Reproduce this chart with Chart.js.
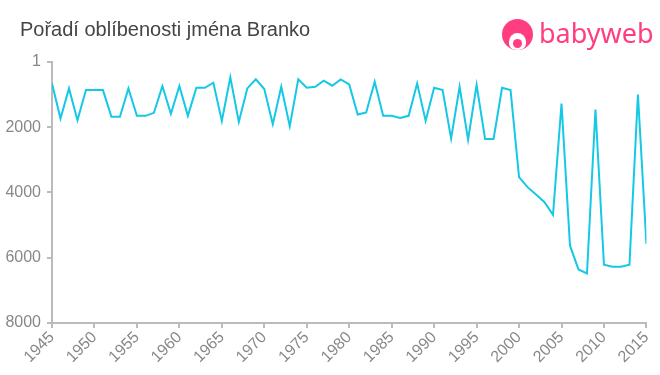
<!DOCTYPE html>
<html>
<head>
<meta charset="utf-8">
<script src="https://cdn.jsdelivr.net/npm/chart.js@4"></script>
<style>
  html, body { margin: 0; padding: 0; background: #fff; }
  #wrap { position: relative; width: 660px; height: 375px; }
  #title { position: absolute; left: 20px; top: 18px; font: 20px "Liberation Sans", Arial, sans-serif; color: #444; }
  #logo { position: absolute; left: 502px; top: 17px; height: 34px; display: flex; align-items: center; }
  #logo .icon { position: relative; width: 31px; height: 31px; border-radius: 50%; background: #ff3d80; overflow: hidden; }
  #logo .face { position: absolute; left: 7px; top: 14px; width: 17px; height: 17px; border-radius: 50% 50% 40% 40%; background: #fff; }
  #logo .mouth { position: absolute; left: 11px; top: 20px; width: 9px; height: 9px; border-radius: 50%; background: #ff3d80; }
  #logo .txt { margin-left: 6px; margin-top: -4px; font: 400 27px "Noto Sans", sans-serif; color: #ff3d80; letter-spacing: 0px; }
  canvas { position: absolute; left: 0; top: 0; }
</style>
</head>
<body>
<div id="wrap">
  <canvas id="chart" width="660" height="375"></canvas>
  <div id="title">Pořadí oblíbenosti jména Branko</div>
  <div id="logo"><div class="icon"><div class="face"></div><div class="mouth"></div></div><span class="txt">babyweb</span></div>
</div>
<script>
const years = [1945, 1946, 1947, 1948, 1949, 1950, 1951, 1952, 1953, 1954,
  1955, 1956, 1957, 1958, 1959, 1960, 1961, 1962, 1963, 1964,
  1965, 1966, 1967, 1968, 1969, 1970, 1971, 1972, 1973, 1974,
  1975, 1976, 1977, 1978, 1979, 1980, 1981, 1982, 1983, 1984,
  1985, 1986, 1987, 1988, 1989, 1990, 1991, 1992, 1993, 1994,
  1995, 1996, 1997, 1998, 1999, 2000, 2001, 2002, 2003, 2004,
  2005, 2006, 2007, 2008, 2009, 2010, 2011, 2012, 2013, 2014, 2015];

const ranks = [656, 1733, 810, 1785, 862, 862, 862, 1682, 1682, 810,
  1651, 1651, 1559, 739, 1590, 739, 1651, 790, 790, 636,
  1805, 472, 1836, 810, 533, 830, 1908, 759, 1969, 533,
  790, 759, 574, 728, 533, 687, 1610, 1549, 605, 1651,
  1651, 1713, 1651, 656, 1805, 790, 862, 2349, 759, 2380,
  708, 2360, 2360, 790, 862, 3528, 3836, 4062, 4298, 4687,
  1272, 5631, 6359, 6482, 1456, 6215, 6277, 6277, 6215, 995, 5569];

const yTicks = [1, 2000, 4000, 6000, 8000];

const axisColor = '#bbbbbb';
const tickFont = { family: '"Liberation Sans", Arial, sans-serif', size: 16 };

new Chart(document.getElementById('chart').getContext('2d'), {
  type: 'line',
  data: {
    datasets: [{
      data: years.map((y, i) => ({ x: y, y: ranks[i] })),
      borderColor: '#14c8e6',
      borderWidth: 2,
      pointRadius: 0,
      tension: 0,
      fill: false
    }]
  },
  options: {
    responsive: false,
    animation: false,
    layout: { padding: { left: 0, right: 13, top: 62, bottom: 0 } },
    plugins: { legend: { display: false }, tooltip: { enabled: false } },
    scales: {
      x: {
        type: 'linear',
        min: 1945,
        max: 2015,
        afterFit: s => { s.height = 52; },
        grid: { drawOnChartArea: false, drawTicks: true, tickLength: 5, color: axisColor, lineWidth: 2 },
        border: { color: axisColor, width: 2 },
        ticks: {
          stepSize: 5,
          color: '#888',
          font: tickFont,
          minRotation: 45,
          maxRotation: 45,
          padding: 0,
          callback: v => String(v)
        }
      },
      y: {
        type: 'linear',
        reverse: true,
        min: 1,
        max: 8000,
        afterFit: s => { s.width = 52; },
        afterBuildTicks: s => { s.ticks = yTicks.map(v => ({ value: v })); },
        grid: { drawOnChartArea: false, drawTicks: true, tickLength: 5, color: axisColor, lineWidth: 2 },
        border: { color: axisColor, width: 2 },
        ticks: { color: '#888', font: tickFont, padding: 6, callback: v => String(v) }
      }
    }
  }
});
</script>
</body>
</html>
